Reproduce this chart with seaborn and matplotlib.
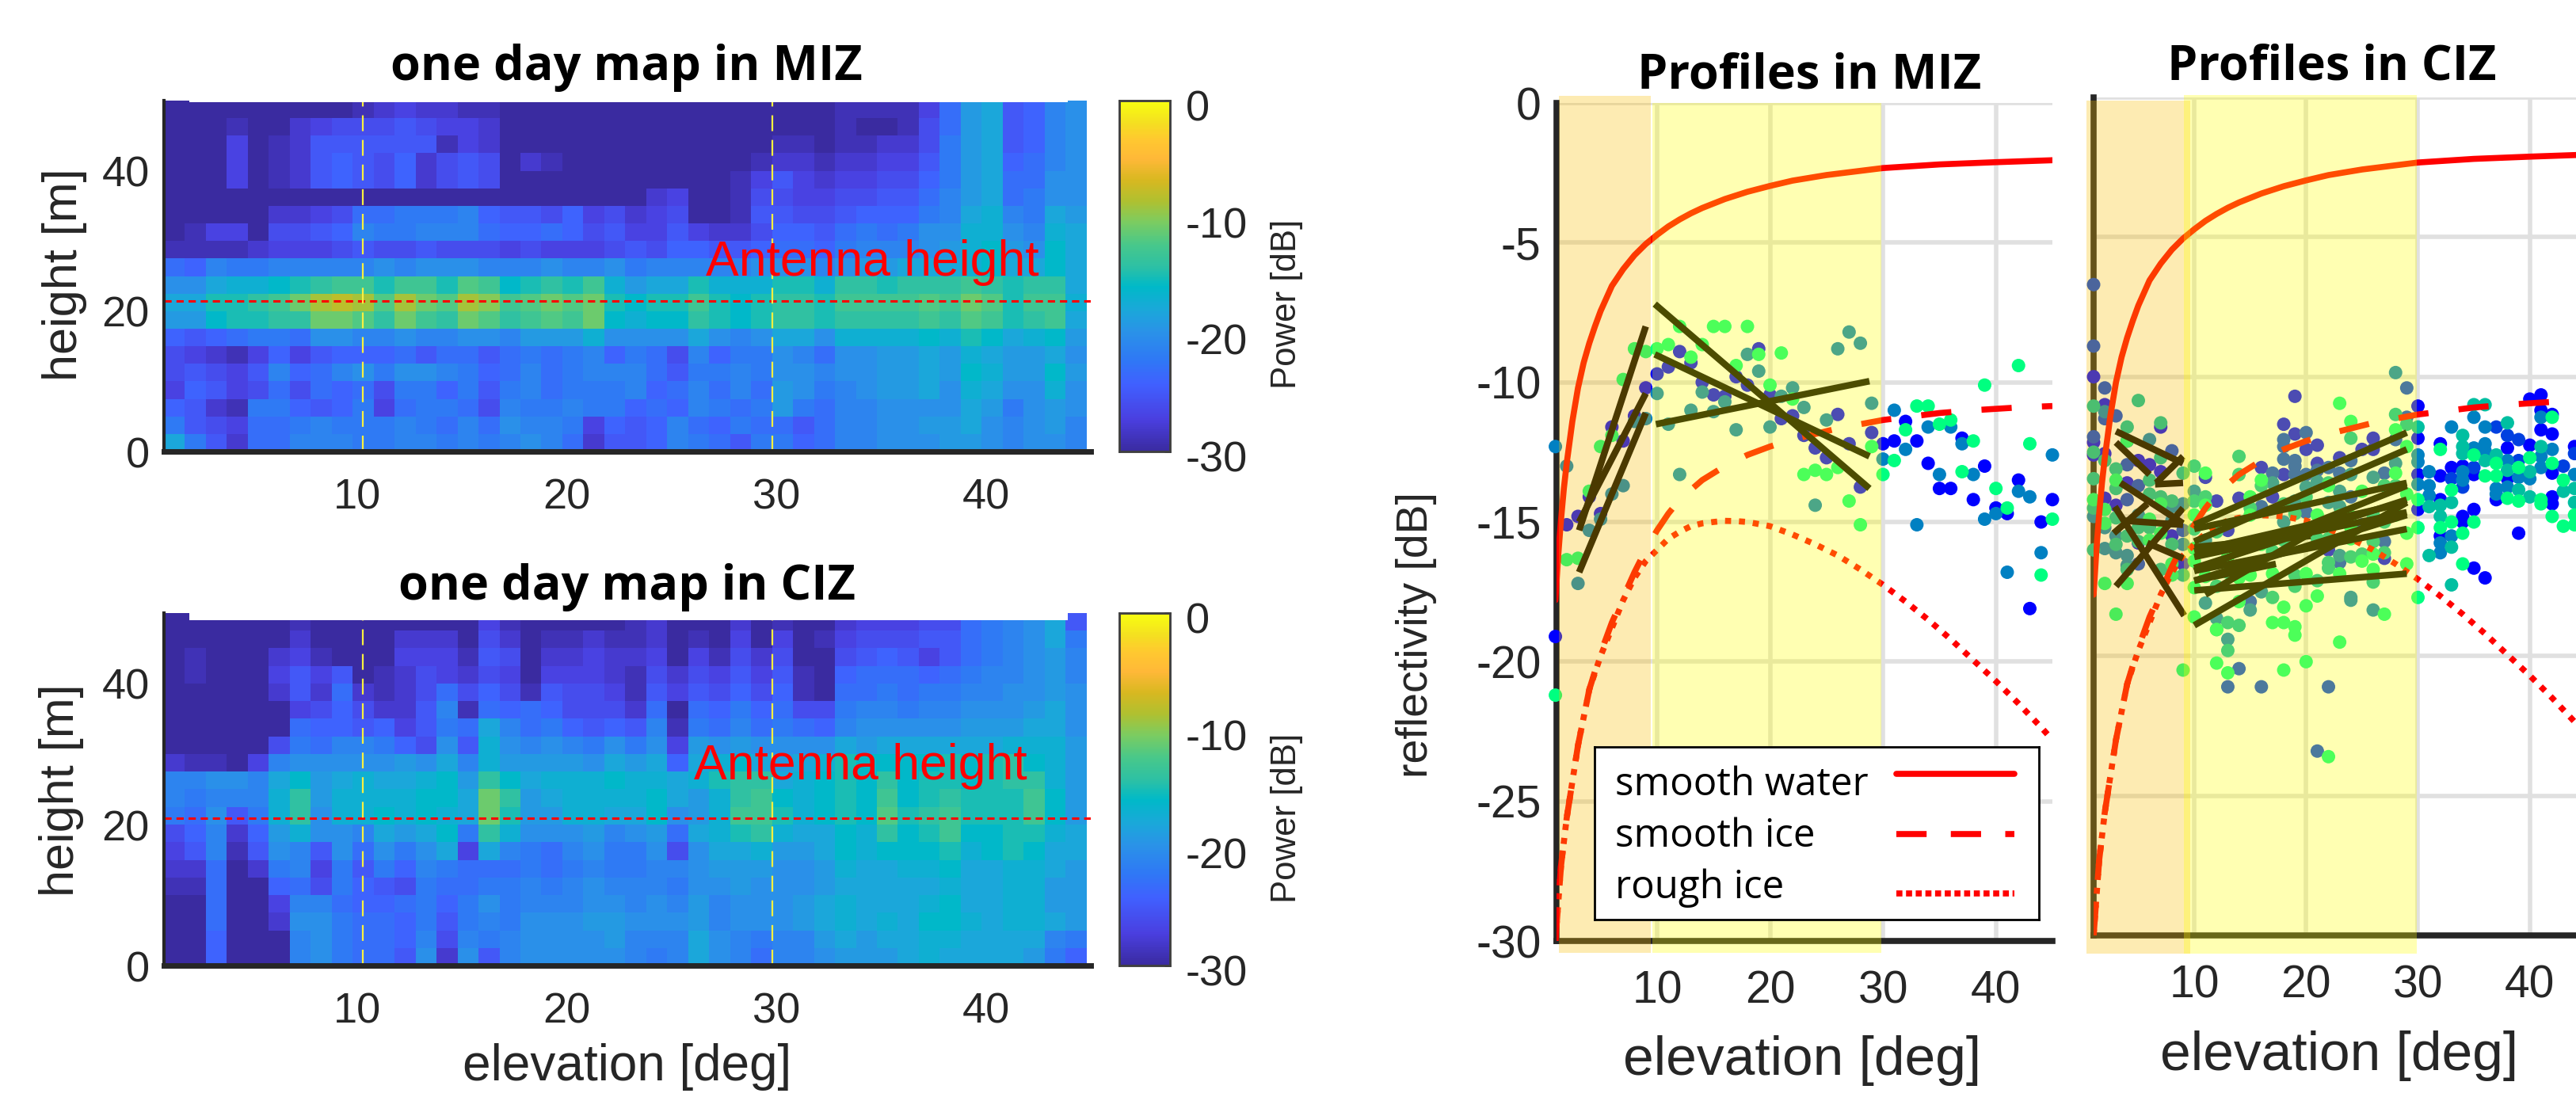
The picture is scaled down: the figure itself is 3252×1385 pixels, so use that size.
import numpy as np
import pandas as pd
import matplotlib
matplotlib.use("Agg")
import matplotlib.pyplot as plt
from matplotlib.colors import LinearSegmentedColormap
from matplotlib.transforms import ScaledTranslation
import seaborn as sns

W, H = 3252, 1385

# heat maps: rows run from 50 m down to 0 m in 2.5 m steps, columns from 1 to 44 deg
miz_map = [
 [-30,-30,-30,-30,-30,-30,-30,-30,-30,-29,-28, -27,-28,-28,-29,-29,-30,-30,-30,-30,-30,-30, -30,-30,-30,-30,-30,-30,-30,-30,-30,-30,-29, -29,-29,-29,-27,-23,-19,-18,-25,-24,-21,-20],
 [-30,-30,-30,-29,-30,-30,-28,-27,-26,-26,-26, -25,-26,-27,-27,-28,-30,-30,-30,-30,-30,-30, -30,-30,-30,-30,-30,-30,-30,-30,-30,-30,-29, -30,-30,-29,-26,-23,-19,-18,-25,-24,-21,-20],
 [-30,-30,-30,-27,-30,-29,-28,-25,-25,-25,-25, -25,-25,-29,-27,-28,-30,-30,-30,-30,-30,-30, -30,-30,-30,-30,-30,-30,-30,-29,-29,-30,-29, -29,-28,-28,-26,-22,-19,-18,-25,-24,-21,-20],
 [-30,-30,-30,-27,-30,-29,-28,-25,-24,-25,-26, -24,-28,-26,-25,-26,-30,-28,-29,-30,-30,-30, -30,-30,-30,-30,-30,-30,-29,-28,-28,-29,-28, -28,-27,-27,-25,-22,-19,-18,-24,-23,-21,-20],
 [-30,-30,-30,-27,-30,-29,-28,-25,-24,-25,-26, -24,-28,-26,-25,-26,-30,-30,-30,-30,-30,-30, -30,-30,-30,-30,-30,-29,-27,-25,-27,-28,-27, -27,-26,-26,-24,-22,-19,-18,-23,-23,-20,-20],
 [-30,-30,-30,-30,-30,-30,-30,-30,-30,-30,-30, -30,-30,-30,-30,-30,-30,-30,-30,-30,-30,-30, -30,-28,-27,-30,-30,-29,-26,-26,-27,-27,-26, -26,-25,-25,-23,-21,-19,-18,-23,-22,-20,-20],
 [-30,-30,-30,-30,-30,-28,-28,-27,-26,-23,-23, -22,-22,-22,-21,-24,-25,-25,-26,-24,-27,-26, -28,-27,-26,-30,-30,-29,-25,-25,-26,-26,-25, -24,-24,-24,-22,-21,-18,-17,-21,-22,-18,-19],
 [-30,-29,-27,-27,-30,-26,-26,-25,-24,-21,-22, -22,-21,-21,-21,-23,-24,-24,-23,-24,-26,-25, -27,-27,-25,-27,-28,-28,-26,-24,-24,-25,-23, -22,-23,-22,-20,-20,-17,-17,-20,-21,-17,-18],
 [-29,-29,-29,-29,-28,-27,-27,-27,-26,-25,-26, -26,-25,-26,-26,-26,-27,-26,-27,-27,-27,-26, -25,-26,-24,-24,-25,-25,-24,-23,-23,-24,-22, -21,-21,-21,-20,-19,-17,-16,-19,-20,-16,-18],
 [-23,-24,-21,-22,-22,-21,-21,-21,-21,-21,-20, -21,-20,-20,-20,-21,-21,-21,-20,-21,-21,-20, -22,-21,-21,-21,-21,-21,-20,-20,-20,-21,-20, -19,-19,-18,-18,-18,-17,-16,-18,-18,-16,-18],
 [-20,-20,-18,-17,-17,-16,-15,-14,-13,-13,-15, -13,-13,-15,-12,-13,-16,-15,-14,-15,-13,-17, -19,-18,-18,-15,-17,-17,-17,-15,-15,-17,-14, -14,-15,-14,-14,-14,-13,-14,-15,-14,-14,-18],
 [-18,-18,-15,-15,-14,-13,-11, -9, -8, -9,-12,  -9,-11,-12, -9,-10,-13,-12,-11,-12,-11,-15, -16,-15,-15,-13,-15,-16,-15,-14,-14,-15,-13, -13,-13,-13,-12,-13,-11,-12,-15,-13,-13,-17],
 [-19,-19,-16,-15,-15,-14,-14,-11,-11,-12,-14, -11,-13,-14,-11,-12,-14,-13,-12,-13,-11,-16, -17,-16,-16,-14,-15,-16,-15,-14,-14,-15,-14, -14,-14,-14,-13,-14,-12,-13,-15,-14,-13,-18],
 [-24,-25,-24,-23,-22,-22,-23,-20,-20,-21,-21, -20,-21,-21,-20,-20,-21,-19,-19,-19,-17,-20, -20,-20,-20,-18,-20,-21,-20,-18,-18,-20,-17, -17,-17,-17,-16,-17,-15,-16,-18,-17,-16,-19],
 [-26,-27,-28,-29,-27,-24,-27,-25,-24,-24,-24, -23,-25,-23,-23,-25,-23,-22,-23,-22,-21,-24, -22,-23,-26,-21,-24,-22,-22,-20,-21,-23,-20, -20,-19,-19,-18,-19,-17,-18,-19,-19,-18,-20],
 [-26,-25,-26,-27,-25,-21,-24,-23,-21,-20,-22, -20,-20,-21,-22,-24,-23,-21,-23,-22,-21,-21, -21,-23,-25,-22,-22,-21,-22,-20,-20,-21,-20, -20,-19,-19,-18,-19,-16,-17,-19,-19,-16,-19],
 [-27,-24,-25,-27,-26,-23,-26,-23,-24,-23,-26, -22,-22,-24,-22,-25,-22,-21,-23,-22,-22,-22, -21,-24,-23,-21,-23,-21,-23,-19,-20,-22,-21, -20,-19,-19,-18,-20,-17,-18,-20,-20,-17,-20],
 [-24,-25,-28,-29,-22,-22,-24,-25,-24,-22,-27, -23,-22,-22,-23,-26,-21,-22,-22,-21,-22,-22, -24,-23,-24,-21,-22,-23,-22,-19,-22,-23,-21, -21,-20,-20,-20,-20,-18,-19,-22,-20,-19,-20],
 [-22,-25,-26,-27,-23,-23,-22,-21,-22,-22,-22, -21,-22,-23,-21,-23,-20,-21,-21,-22,-27,-24, -25,-24,-21,-23,-24,-22,-23,-23,-25,-23,-21, -21,-20,-20,-19,-19,-18,-20,-21,-20,-19,-21],
 [-18,-22,-25,-28,-23,-23,-21,-21,-21,-22,-22, -21,-21,-22,-21,-22,-21,-20,-21,-23,-28,-25, -25,-24,-21,-22,-23,-25,-22,-22,-24,-23,-21, -21,-20,-20,-20,-19,-19,-20,-21,-20,-20,-21],
]
ciz_map = [
 [-30,-30,-30,-30,-30,-30,-29,-30,-30,-30,-30, -30,-30,-30,-30,-27,-29,-30,-30,-30,-30,-30, -29,-28,-30,-30,-30,-28,-30,-29,-30,-30,-28, -27,-27,-27,-26,-26,-23,-22,-21,-20,-18,-25],
 [-30,-30,-30,-30,-30,-30,-28,-30,-30,-30,-30, -28,-28,-28,-30,-26,-28,-30,-29,-29,-28,-29, -29,-28,-30,-29,-30,-27,-30,-27,-30,-29,-27, -26,-26,-26,-25,-25,-23,-22,-21,-20,-18,-22],
 [-30,-29,-30,-30,-30,-28,-27,-29,-30,-30,-30, -27,-27,-27,-29,-25,-26,-30,-28,-28,-27,-28, -28,-27,-30,-27,-29,-26,-28,-26,-30,-30,-26, -25,-24,-25,-27,-25,-23,-22,-21,-20,-19,-21],
 [-30,-29,-30,-30,-30,-27,-25,-27,-25,-30,-29, -28,-26,-27,-28,-26,-27,-30,-27,-27,-27,-28, -29,-26,-28,-26,-27,-25,-27,-25,-29,-30,-24, -23,-23,-23,-24,-23,-22,-21,-21,-20,-19,-21],
 [-30,-30,-30,-30,-30,-28,-25,-28,-23,-28,-29, -28,-26,-23,-26,-24,-26,-29,-25,-26,-26,-27, -29,-25,-27,-25,-26,-24,-26,-24,-29,-30,-23, -23,-22,-23,-22,-22,-21,-21,-20,-20,-19,-20],
 [-30,-30,-30,-30,-30,-30,-27,-26,-24,-26,-28, -28,-25,-21,-29,-23,-24,-23,-24,-26,-26,-26, -28,-23,-30,-23,-24,-22,-24,-23,-26,-26,-22, -21,-21,-22,-21,-21,-20,-20,-20,-19,-18,-20],
 [-30,-30,-30,-30,-30,-30,-23,-24,-24,-25,-24, -27,-25,-22,-23,-18,-21,-23,-22,-24,-25,-24, -25,-21,-29,-22,-23,-21,-23,-22,-23,-24,-21, -20,-20,-20,-20,-20,-19,-19,-19,-18,-18,-20],
 [-30,-30,-30,-30,-30,-26,-22,-23,-21,-21,-22, -24,-26,-20,-25,-17,-20,-21,-20,-21,-22,-20, -22,-20,-27,-19,-20,-19,-20,-20,-20,-20,-18, -19,-18,-18,-18,-18,-18,-18,-17,-17,-17,-19],
 [-28,-29,-29,-30,-27,-21,-20,-20,-20,-20,-20, -19,-20,-18,-21,-17,-19,-19,-19,-19,-20,-18, -19,-18,-24,-18,-17,-16,-18,-19,-18,-17,-15, -16,-16,-16,-16,-15,-16,-15,-14,-16,-17,-19],
 [-21,-21,-20,-20,-21,-18,-16,-19,-18,-17,-18, -18,-17,-16,-19,-14,-16,-18,-17,-17,-17,-16, -17,-17,-18,-17,-15,-14,-14,-18,-17,-16,-15, -16,-14,-16,-15,-15,-16,-15,-14,-14,-17,-19],
 [-21,-22,-21,-21,-21,-17,-14,-19,-17,-17,-17, -17,-16,-16,-18,-11,-14,-19,-18,-17,-17,-17, -17,-16,-18,-19,-17,-14,-13,-16,-17,-16,-15, -16,-13,-16,-15,-14,-15,-15,-15,-13,-16,-19],
 [-22,-23,-20,-25,-22,-17,-14,-20,-17,-17,-16, -17,-16,-17,-18,-11,-15,-19,-19,-17,-17,-18, -18,-16,-20,-19,-17,-13,-13,-15,-17,-16,-15, -16,-12,-15,-14,-13,-15,-15,-15,-13,-16,-19],
 [-26,-24,-21,-28,-24,-19,-17,-20,-20,-21,-18, -19,-18,-16,-22,-14,-17,-20,-20,-20,-19,-21, -20,-19,-23,-18,-17,-15,-14,-17,-18,-18,-16, -17,-14,-16,-15,-13,-16,-16,-15,-15,-17,-18],
 [-27,-25,-21,-29,-25,-20,-21,-25,-20,-23,-20, -22,-20,-18,-27,-18,-21,-22,-23,-21,-20,-22, -22,-20,-26,-20,-18,-18,-17,-19,-19,-18,-16, -17,-16,-16,-16,-15,-17,-16,-15,-16,-18,-18],
 [-28,-28,-23,-30,-28,-22,-21,-27,-22,-25,-22, -24,-21,-22,-23,-23,-23,-22,-23,-22,-21,-22, -22,-21,-21,-20,-19,-19,-19,-20,-20,-19,-17, -18,-18,-17,-17,-16,-18,-18,-17,-17,-18,-19],
 [-29,-29,-23,-30,-30,-24,-23,-26,-22,-24,-25, -26,-22,-23,-23,-22,-22,-21,-22,-21,-20,-21, -21,-21,-22,-20,-20,-19,-20,-20,-20,-19,-18, -18,-18,-18,-18,-17,-18,-18,-17,-17,-19,-19],
 [-30,-30,-23,-30,-30,-27,-21,-21,-23,-24,-24, -23,-22,-24,-22,-20,-22,-21,-21,-21,-20,-20, -21,-20,-21,-19,-21,-20,-20,-20,-19,-18,-17, -18,-18,-18,-17,-16,-18,-18,-17,-17,-19,-19],
 [-30,-30,-23,-30,-30,-28,-20,-20,-22,-23,-23, -24,-22,-25,-22,-21,-22,-20,-20,-20,-19,-19, -20,-20,-20,-19,-21,-20,-20,-20,-19,-18,-17, -18,-17,-18,-16,-16,-17,-18,-17,-17,-18,-19],
 [-30,-30,-24,-30,-30,-30,-21,-20,-22,-23,-23, -24,-21,-26,-21,-22,-21,-20,-20,-20,-20,-19, -21,-21,-21,-18,-20,-21,-22,-21,-21,-19,-18, -19,-18,-18,-17,-17,-18,-18,-18,-18,-21,-22],
 [-30,-30,-24,-30,-30,-30,-21,-20,-22,-23,-23, -25,-20,-28,-20,-25,-21,-20,-20,-20,-20,-20, -21,-22,-21,-18,-20,-21,-23,-21,-21,-20,-19, -19,-19,-18,-17,-18,-18,-18,-18,-19,-22,-24],
]
map_heights = [0, 20, 40]
map_elevs = [10, 20, 30, 40]
power_ticks = [0, -10, -20, -30]

# model curves
water_x = [1, 1.25, 1.5, 1.75, 2, 2.5, 3, 3.5, 4, 4.5, 5, 5.5, 6, 7, 8, 9, 10, 11, 12, 13, 14, 16, 18, 20, 22, 25, 30, 35, 40, 45]
water_y = [-17.8, -16.2, -14.9, -13.8, -12.9, -11.4, -10.2, -9.3, -8.6, -8, -7.45, -7, -6.55, -5.95, -5.45, -5.05, -4.72, -4.42, -4.17, -3.95, -3.76, -3.44, -3.18, -2.97, -2.78, -2.58, -2.33, -2.2, -2.12, -2.05]
ice_x = [1, 1.5, 2, 3, 4, 5, 6, 7, 8, 9, 10, 11, 12, 14, 16, 18, 20, 22, 24, 26, 28, 30, 32, 35, 38, 40, 42, 45]
ice_y = [-30, -27.3, -25.6, -23, -21, -19.7, -18.6, -17.7, -16.8, -16, -15.3, -14.7, -14.2, -13.5, -13, -12.6, -12.3, -12.05, -11.85, -11.65, -11.5, -11.35, -11.25, -11.1, -11, -10.95, -10.9, -10.85]
rough_x = [1, 1.5, 2, 3, 4, 5, 6, 7, 8, 9, 10, 11, 12, 13, 14, 15, 16, 17, 18, 20, 22, 24, 26, 28, 30, 32, 34, 36, 38, 40, 42, 44, 45]
rough_y = [-30, -27.3, -25.6, -23, -21, -19.8, -18.8, -17.8, -17, -16.4, -16, -15.6, -15.35, -15.15, -15.05, -15, -14.96, -14.97, -15, -15.15, -15.45, -15.8, -16.2, -16.7, -17.25, -17.85, -18.5, -19.2, -19.95, -20.7, -21.5, -22.35, -22.8]

# MIZ profile points, one value per elevation for three days
miz_elev = list(range(1, 46))
miz_blue = [-19.1, -15.1, -14.8, -14.1, -14.7, -11.6, -12.1, -11.2, -10.2, -9.7, -9.45, -8.9, -9.3, -10, -10.45, -10.5, -9.8, -10.1, -8.8, -10.45, -11.3, -11.2, -11.9, -12.35, -12.7, -11.15, -12.2, -13.75, -11.8, -12.2, -12.1, -11.4, -12.1, -12.9, -13.8, -13.8, -12, -14.2, -13, -14.5, -14.7, -13.5, -18.1, -15, -14.2]
miz_mid = [-12.3, -13, -17.2, -15.3, -14.9, -14, -13.7, -11.4, -11.3, -10.4, -11.5, -13.3, -11, -10.35, -11.05, -10.7, -11.7, -9, -9.6, -11.6, -10.5, -10.2, -10.9, -14.4, -11.35, -8.8, -8.2, -8.6, -10.75, -12.75, -11, -12.4, -15.1, -11.6, -13.3, -11.6, -12.2, -13.3, -14.9, -14.7, -16.8, -13.9, -14.1, -16.1, -12.6]
miz_green = [-21.2, -16.35, -16.3, -13.9, -12.3, -11.9, -9.9, -8.8, -8.9, -8.8, -8.65, -8, -9.1, -8.65, -8, -8, -9.4, -8, -9, -10.1, -8.95, -10.6, -13.3, -13.15, -13.3, -13.05, -14.25, -15.1, -12.3, -13.3, -12.8, -11.7, -10.85, -10.85, -11.5, -11.35, -13.2, -12.1, -10.1, -13.8, -14.5, -9.4, -12.2, -16.9, -14.9]

# CIZ profile points (elevation, reflectivity), one list per colour step
ciz_l0 = [(1,-10),(1,-12.35),(1,-12.8),(2,-11),(2,-12.75),(2,-14.35),(3,-14.6),(4,-12.3),(4,-13.8),(5,-13),(5,-15.95),(6,-13.15),(7,-11.8),(7,-13.4),(8,-15.7),(9,-16.7),
 (11,-13.6),(11,-14.45),(12,-14.45),(13,-15.5),(14,-14.35),(16,-13.25),(17,-14.3),(18,-11.7),(18,-13.5),(19,-10.7),(19,-12.05),(20,-12.6),(21,-12.45),(21,-13.1),(22,-16.2),(23,-12.9),(25,-12.6),(26,-12.2),(26,-12.6),(27,-16.5),
 (30,-11.05),(30,-12.2),(30,-13.5),(30,-14.75),(32,-12.4),(32,-13.55),(32,-14.4),(32,-15.7),(33,-13.25),(34,-13.2),(34,-15),(34,-15.2),(35,-13.5),(35,-14.75),(35,-16.85),(36,-17.2),(37,-14.4),(38,-12.55),(38,-13.65),(39,-15.6),(40,-10.8),(40,-12.45),(41,-10.65),(41,-11.2),(41,-11.9),(42,-11.35),(42,-12.05),(42,-13.45),(42,-14.3),(42,-14.55),(44,-12.5)]
ciz_l1 = [(1,-6.7),(1,-8.9),(1,-12.15),(2,-10.4),(2,-11.5),(3,-11.4),(4,-13.15),(4,-14.4),(5,-13.9),(5,-16.7),(8,-12.65),(9,-15.5),(13,-21.1),(14,-20.45),(15,-18.05),(16,-21.1),(16,-14.65),(17,-13.45),(18,-12.25),(18,-12.5),(18,-12.95),(19,-13),(19,-13.2),(19,-13.5),(20,-12),(20,-13.5),(20,-14.85),(21,-13.35),(21,-23.4),(22,-13.25),(22,-21.1),(23,-13.45),(23,-16.65),(24,-13),(24,-14.3),(25,-15.3),(27,-13.45),(27,-15.9),(28,-12.25),(29,-10.4),(29,-11.45),
 (33,-13.65),(34,-13.95),(35,-13.25),(37,-11.8),(38,-12.1),(39,-12.25),(39,-13),(43,-13.2),(44,-12.75)]
ciz_l2 = [(1,-15),(2,-11.25),(2,-15.4),(2,-16.15),(3,-15.7),(3,-16.3),(4,-16.4),(4,-16.75),(5,-14.95),(6,-12.25),(8,-14.65),(8,-15.15),(9,-14.55),(9,-16),(10,-14.1),(10,-14.45),(11,-15.85),(11,-18.1),(12,-18.65),(13,-19.4),(15,-18.35),(16,-17.7),(17,-13.8),(18,-15.2),(19,-14.45),(20,-13.95),(21,-13.75),(22,-14.5),(23,-14.1),(23,-14.65),(23,-16.4),(24,-13.5),(24,-17.9),(24,-18),(26,-13.6),(26,-18.35),(28,-9.85),(28,-13.1),
 (30,-12.8),(30,-13.05),(30,-13.85),(31,-13.4),(31,-13.9),(31,-14.25),(32,-15.95),(32,-16.3),(33,-11.8),(33,-15.7),(34,-13.4),(34,-13.7),(35,-11.45),(35,-12.55),(36,-11.8),(36,-12.4),(36,-12.65),(37,-14),(37,-14.2),(38,-13),(38,-13.95),(39,-13.6),(40,-13.65),(41,-11.45),(41,-12.85),(41,-13.25),(42,-12.6),(44,-13.5)]
ciz_l3 = [(1,-11.05),(1,-12.7),(1,-13.65),(1,-14.7),(1,-16.2),(2,-13),(3,-13.3),(3,-14),(3,-15.05),(3,-16),(4,-11.8),(4,-15.7),(4,-16.9),(5,-10.85),(5,-15.4),(5,-15.9),(6,-13.7),(6,-14.2),(6,-15.4),(7,-11.65),(7,-12.9),(7,-14.3),(7,-16.9),(8,-14.45),(8,-16),(9,-13.45),(9,-17.1),(10,-13.2),(10,-14.45),(10,-15.45),(11,-14.3),(12,-15.55),(12,-17.5),(12,-19.05),(13,-17),(13,-18.8),(13,-19.8),(14,-12.85),(14,-13.5),(14,-18.9),(15,-14.7),(16,-13.9),(17,-16.25),(17,-17.9),(18,-14.55),(18,-15.85),(19,-14.9),(19,-17.1),(19,-17.5),(20,-14.3),(21,-15.8),(21,-17.3),(22,-13.8),(22,-15.8),(22,-16.65),(22,-16.85),(23,-14.95),(24,-12.2),(24,-16.45),(25,-16.35),(26,-14.95),(26,-15.9),(26,-17.35),(27,-13.9),(27,-15.2),(27,-16.3),(28,-11.35),(28,-13.9),(29,-11.7),
 (30,-11.8),(31,-14.65),(31,-16.4),(32,-14.6),(32,-15),(33,-14.5),(33,-16.1),(33,-17.45),(34,-12.1),(34,-12.5),(34,-12.75),(35,-11),(36,-11),(36,-13),(37,-12.8),(38,-11.65),(38,-13.35),(39,-14.05),(40,-13.4),(40,-14.3),(41,-12.5),(43,-14.1),(44,-14),(44,-14.5)]
ciz_l4 = [(1,-14.4),(2,-14.75),(2,-15.25),(2,-17.4),(3,-13.7),(3,-18.5),(4,-12.3),(4,-17.4),(6,-15.1),(6,-15.85),(7,-14.55),(7,-15.6),(8,-16.7),(8,-17.1),(9,-20.5),(10,-14.95),(10,-16.15),(10,-16.6),(10,-17.55),(10,-18.6),(11,-13.45),(11,-14.6),(11,-17.15),(12,-19.05),(12,-20.25),(13,-16.45),(13,-20.6),(14,-17.2),(14,-18.05),(15,-14.3),(15,-14.95),(15,-17.1),(16,-13.7),(16,-16),(17,-17.05),(17,-18.8),(18,-18.25),(18,-18.8),(18,-20.5),(19,-18.95),(19,-19.25),(20,-17.05),(20,-18.2),(20,-20.2),(21,-14.95),(21,-17.85),(22,-13.9),(22,-23.6),(23,-10.95),(23,-17.05),(23,-19.5),(24,-11.6),(24,-15),(24,-15.4),(24,-15.8),(25,-14.1),(25,-16.6),(26,-16.35),(26,-16.9),(27,-18.5),(28,-11.9),(28,-13.45),(28,-14.95),(29,-12.5),(29,-14.2),(29,-15.6),(29,-16.7),
 (30,-14.4),(30,-15.4),(30,-17.9),(32,-12.6),(32,-15.4),(33,-14.05),(33,-15.2),(34,-15.6),(34,-16.7),(35,-12.8),(35,-15.2),(36,-13.55),(37,-13.1),(37,-13.55),(38,-14.35),(39,-13.25),(39,-14.45),(40,-12.9),(41,-14.4),(41,-14.55),(42,-11.45),(42,-13.1),(42,-15),(43,-13.7),(43,-15.35),(44,-14.95),(44,-15.3)]

# fitted segments: elevation start, end and reflectivity start, end
miz_fit_x0 = [9, 9, 9, 9.8, 9.8, 9.9]
miz_fit_x1 = [3.1, 3.1, 3.1, 28.8, 28.8, 28.8]
miz_fit_y0 = [-8, -10.4, -11.1, -7.2, -9, -11.5]
miz_fit_y1 = [-15.3, -15, -16.8, -13.8, -12.65, -9.96]
ciz_fit_x0 = [10, 10, 10, 10, 10, 10, 10, 10, 10, 10, 10, 11, 10, 10, 3, 3, 9, 3.4, 2.9, 3, 5.8, 2.8, 3.6, 6.5]
ciz_fit_x1 = [29, 29, 29, 29, 29, 29, 29, 17.3, 29, 29, 29, 20.4, 29, 20.4, 9, 6, 6.6, 9, 9.1, 9, 9, 5.8, 9, 9]
ciz_fit_y0 = [-15.3, -15.9, -15.45, -16.25, -16.45, -16.95, -16.85, -17.3, -18.9, -17.65, -16.95, -17.8, -17.3, -16.1, -11.95, -12.35, -12.85, -13.8, -14.65, -17.5, -15.95, -15.6, -15.15, -13.85]
ciz_fit_y1 = [-12, -12.6, -13.8, -14.5, -14.85, -13.9, -14.4, -16.7, -14.5, -17.05, -15.45, -15.6, -14.95, -15.7, -13.1, -13.5, -13.8, -15.25, -18.55, -14.7, -16.5, -14.55, -15.3, -13.8]

refl_ticks = [0, -5, -10, -15, -20, -25, -30]
legend_names = ["smooth water", "smooth ice", "rough ice"]

sns.set_theme(style="white", rc={"axes.edgecolor": "#262626", "text.color": "#262626",
                                 "xtick.color": "#262626", "ytick.color": "#262626"})
plt.rcParams["font.family"] = ["Liberation Sans", "DejaVu Sans"]

parula = LinearSegmentedColormap.from_list("mapcol", [
    (0.00, "#3a2ba0"), (0.09, "#4a3fe0"), (0.19, "#4060ff"), (0.26, "#2f78f5"),
    (0.34, "#2a92e8"), (0.41, "#18aad8"), (0.47, "#00b9c8"), (0.525, "#2cc0a5"),
    (0.59, "#48c88a"), (0.655, "#7ccc60"), (0.715, "#b0c030"), (0.775, "#d8b820"),
    (0.835, "#ffb838"), (0.89, "#ffc830"), (0.94, "#f4e020"), (1.00, "#f8ff10")])
winter = {0: (0, 0, 1), 1: (0, 0.25, 0.88), 2: (0, 0.5, 0.76), 3: (0, 0.75, 0.63), 4: (0, 1, 0.5)}

fig = plt.figure(figsize=(W / 100, H / 100), dpi=100, facecolor="white")
label_down = ScaledTranslation(0, -6 / 100, fig.dpi_scale_trans)


def box(left, top, right, bottom):
    return fig.add_axes([left / W, 1 - bottom / H, (right - left) / W, (bottom - top) / H])


def label(x, y, s, size, **kw):
    fig.text(x / W, 1 - y / H, s, fontsize=size, ha="center", va="center", **kw)


def draw_map(data, top, bottom, ant_h, txt_x, txt_y, notch):
    ax = box(207, top, 1377, bottom)
    cax = box(1413, top, 1477, bottom)
    sns.heatmap(np.array(data, dtype=float), ax=ax, cbar_ax=cax, cmap=parula, vmin=-30, vmax=0)
    # row and column numbers of the heatmap back to metres and degrees
    to_col = lambda e: e - 0.8
    to_row = lambda h: (50 - h) / 2.5
    ax.set_xlim(0, 44.2)
    ax.set_xticks([to_col(e) for e in map_elevs], map_elevs, rotation=0, fontsize=39)
    ax.set_yticks([to_row(h) for h in map_heights], map_heights, rotation=0, fontsize=39)
    ax.tick_params(axis="x", length=0, pad=24)
    ax.tick_params(axis="y", length=0, pad=13)
    for side in ["left", "bottom"]:
        ax.spines[side].set_visible(True)
    ax.spines["left"].set_linewidth(3)
    ax.spines["bottom"].set_linewidth(5)
    ax.add_patch(plt.Rectangle((to_col(2.0), to_row(50)), 41.9, notch, color="white", zorder=3, lw=0))
    ax.axhline(to_row(ant_h), color="red", lw=2.2, ls=(0, (3, 2)))
    for e in [10.3, 29.8]:
        ax.axvline(to_col(e), color="#f8f040", lw=1.6, ls=(0, (9, 5)))
    ax.text(to_col(txt_x), to_row(txt_y), "Antenna height", color="red", fontsize=45, ha="center", va="center")
    cax.set_yticks(power_ticks, power_ticks, fontsize=39)
    cax.tick_params(axis="y", length=5, width=2, direction="in", pad=14, right=True)
    for sp in cax.spines.values():
        sp.set_visible(True)
        sp.set_linewidth(1.8)
        sp.set_edgecolor("#404040")
    for t in list(ax.get_yticklabels()) + list(cax.get_yticklabels()):
        t.set_transform(t.get_transform() + label_down)


draw_map(miz_map, 127, 570, 21.5, 34.6, 26.9, 0.1)
draw_map(ciz_map, 774, 1219, 20.9, 34.0, 28.3, 0.4)


def draw_profile(points, fits, rect, xleft, xright, orange, yellow, show_y):
    ax = box(*rect)
    sns.scatterplot(data=points, x="x", y="y", hue="level", palette=winter, s=150, linewidth=0,
                    legend=False, ax=ax, zorder=3, clip_on=False)
    sns.lineplot(x=water_x, y=water_y, color="red", lw=5.5, ax=ax, zorder=4, errorbar=None)
    sns.lineplot(x=ice_x, y=ice_y, color="red", lw=5.5, ax=ax, zorder=4, errorbar=None, linestyle=(0, (5, 5)))
    sns.lineplot(x=rough_x, y=rough_y, color="red", lw=5.5, ax=ax, zorder=4, errorbar=None, linestyle=(0, (1, 1.3)))
    for x0, x1, y0, y1 in zip(*fits):
        ax.plot([x0, x1], [y0, y1], color="black", lw=6, zorder=5, solid_capstyle="butt")
    ax.axvspan(orange[0], orange[1], ymin=orange[2], ymax=orange[3], color=(0.98, 0.74, 0), alpha=0.3, lw=0, zorder=10, clip_on=False)
    ax.axvspan(yellow[0], yellow[1], ymin=yellow[2], ymax=yellow[3], color=(1, 1, 0), alpha=0.3, lw=0, zorder=10, clip_on=False)
    ax.set_xlim(xleft, xright)
    ax.set_ylim(-30, 0)
    ax.set_xticks(map_elevs, map_elevs, fontsize=41)
    ax.set_yticks(refl_ticks, refl_ticks if show_y else [], fontsize=41)
    ax.grid(True, color="#e0e0e0", lw=4)
    ax.set_axisbelow(True)
    ax.set_xlabel("")
    ax.set_ylabel("")
    ax.tick_params(axis="both", direction="in", length=10, width=4)
    ax.tick_params(axis="x", pad=26)
    ax.tick_params(axis="y", pad=14)
    ax.spines["top"].set_visible(False)
    ax.spines["right"].set_visible(False)
    ax.spines["left"].set_linewidth(5.5)
    ax.spines["bottom"].set_linewidth(5.5)
    return ax


miz_points = pd.concat([
    pd.DataFrame({"x": miz_elev, "y": miz_blue, "level": 0}),
    pd.DataFrame({"x": miz_elev, "y": miz_mid, "level": 2}),
    pd.DataFrame({"x": miz_elev, "y": miz_green, "level": 4})])
ciz_points = pd.concat([
    pd.DataFrame(pts, columns=["x", "y"]).assign(level=lev)
    for lev, pts in enumerate([ciz_l0, ciz_l1, ciz_l2, ciz_l3, ciz_l4])])

draw_profile(miz_points, (miz_fit_x0, miz_fit_x1, miz_fit_y0, miz_fit_y1), (1965, 130, 2591, 1188), 1.1, 45,
             (1.3, 9.45, -0.0142, 1.0085), (9.6, 29.85, -0.0142, 1.0), True)
draw_profile(ciz_points, (ciz_fit_x0, ciz_fit_x1, ciz_fit_y0, ciz_fit_y1), (2643, 123, 3252, 1181), 1.0, 44.13,
             (0.36, 9.65, -0.0218, 0.996), (9.07, 29.9, -0.0218, 1.003), False)

# legend box drawn in its own axes, in pixel units
lax = box(2013, 943, 2574, 1161)
lax.set_xlim(2013, 2574)
lax.set_ylim(1161, 943)
lax.set_xticks([])
lax.set_yticks([])
lax.set_zorder(20)
lax.set_facecolor("white")
for sp in lax.spines.values():
    sp.set_visible(True)
    sp.set_color("black")
    sp.set_linewidth(2)
styles = ["-", (0, (5, 4)), (0, (1, 0.6))]
for name, ls, ty, ly in zip(legend_names, styles, [991, 1056, 1121], [977, 1053, 1128]):
    lax.text(2039, ty, name, fontsize=35.5, family="Open Sans", va="center", ha="left", color="black")
    lax.plot([2394, 2543], [ly, ly], color="red", lw=5.5, ls=ls)

label(791, 85, "one day map in MIZ", 44, family="Open Sans", fontweight="bold", color="black")
label(791, 742, "one day map in CIZ", 44, family="Open Sans", fontweight="bold", color="black")
label(2284, 96, "Profiles in MIZ", 44, family="Open Sans", fontweight="bold", color="black")
label(2944, 85, "Profiles in CIZ", 44, family="Open Sans", fontweight="bold", color="black")
label(82, 347, "height [m]", 44, rotation=90)
label(77, 998, "height [m]", 44, rotation=90)
label(1624, 384, "Power [dB]", 31.5, rotation=90)
label(1624, 1033, "Power [dB]", 31.5, rotation=90)
label(1788, 802, "reflectivity [dB]", 40, rotation=90)
label(792, 1347, "elevation [deg]", 46)
label(2275, 1339, "elevation [deg]", 50)
label(2953, 1333, "elevation [deg]", 50)

fig.savefig("out.png", dpi=100)
